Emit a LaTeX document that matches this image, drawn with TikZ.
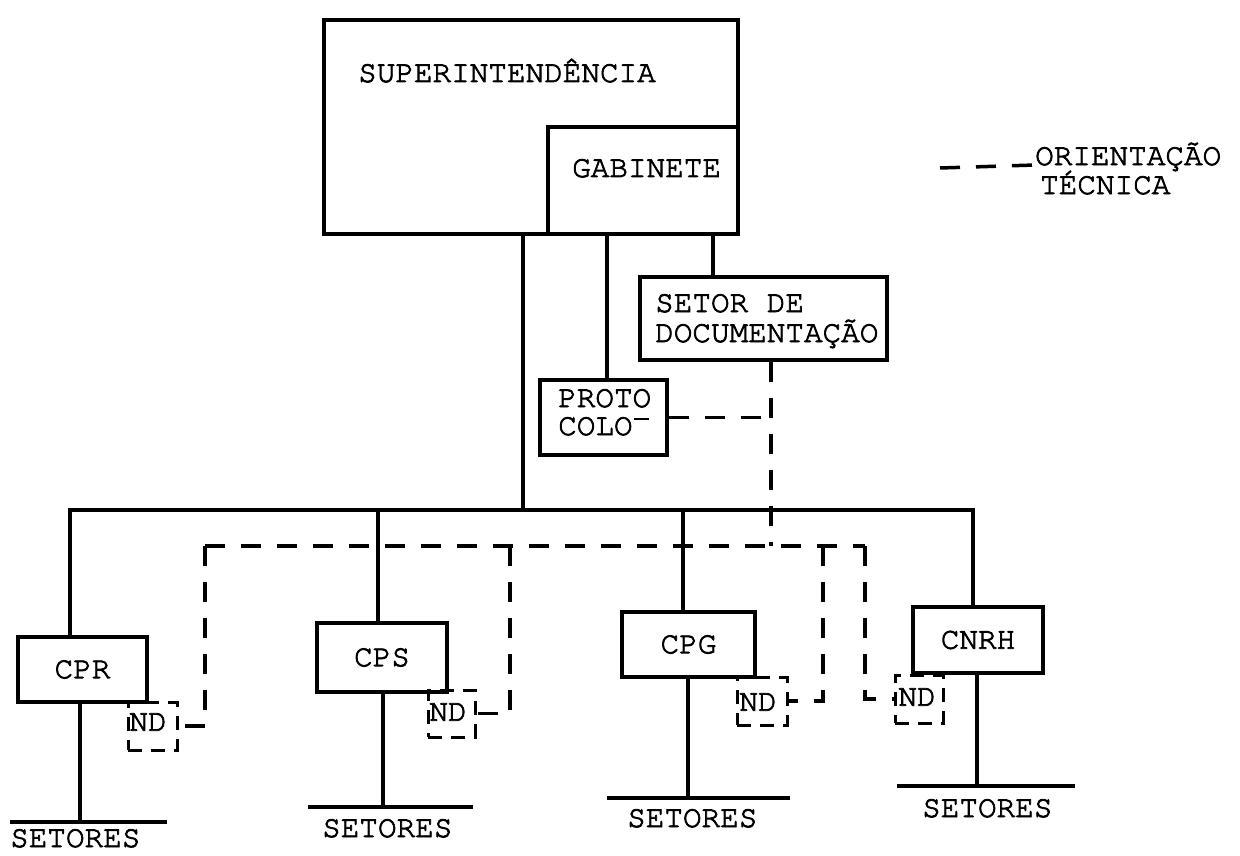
\documentclass[tikz,border=0pt]{standalone}
\usepackage{fontspec}
\newfontfamily\tw{TeX Gyre Cursor}[FakeBold=2.5]
\begin{document}
\begin{tikzpicture}[x=1pt,y=-1pt,
  box/.style={draw, line width=3.2pt, inner sep=0pt, font=\tw\fontsize{31}{31}\selectfont},
  ndbox/.style={draw, line width=3pt, dash pattern=on 14pt off 9pt, inner sep=0pt},
  lbl/.style={font=\tw\fontsize{31}{31}\selectfont, inner sep=0pt, anchor=base west},
  ctr/.style={font=\tw\fontsize{31}{31}\selectfont, inner sep=0pt},
  ln/.style={line width=3.2pt},
  dl/.style={line width=3.5pt, dash pattern=on 20pt off 16pt}]
\useasboundingbox (0,0) rectangle (1240,856);

% top boxes
\node[box, minimum width=414pt, minimum height=214pt] (sup) at (531,127) {};
\node[box, minimum width=190pt, minimum height=107pt] (gab) at (643,180.5) {};
\node[lbl] (tsup) at (358,82) {SUPERINTENDÊNCIA};
\node[lbl] (tgab) at (572,177) {GABINETE};

\node[box, minimum width=247pt, minimum height=83pt] (setor) at (763.5,318.5) {};
\node[lbl] (tset1) at (655,312) {SETOR DE};
\node[lbl] (tset2) at (655,342) {DOCUMENTAÇÃO};

\node[box, minimum width=127pt, minimum height=75pt] (prot) at (603.5,417.5) {};
\node[lbl] (tpro1) at (558,407) {PROTO};
\node[lbl] (tpro2) at (558,435) {COLO\hspace{1pt}\rule[0.48em]{0.5em}{2.5pt}};

% legend
\node[lbl] (leg1) at (1035,165) {ORIENTAÇÃO};
\node[lbl] (leg2) at (1040,194) {TÉCNICA};
\coordinate (lg) at (940,168);
\draw[dl] (lg) -- (leg1.base west);

% coordination boxes
\node[box, minimum width=129pt, minimum height=65pt] (cpr) at (82.5,669.5) {CPR};
\node[box, minimum width=130pt, minimum height=69pt] (cps) at (382,657.5) {CPS};
\node[box, minimum width=133pt, minimum height=65pt] (cpg) at (688.5,644.5) {CPG};
\node[box, minimum width=130pt, minimum height=66pt] (cnrh) at (978,640) {CNRH};

% ND boxes
\node[ndbox, minimum width=49pt, minimum height=48pt] (nd1) at (152.5,726) {};
\node[ctr] (tnd1) at (148,722) {ND};
\node[ndbox, minimum width=47pt, minimum height=47pt] (nd2) at (451.5,713.5) {};
\node[ctr] (tnd2) at (448,712) {ND};
\node[ndbox, minimum width=50pt, minimum height=48pt] (nd3) at (762,701) {};
\node[ctr] (tnd3) at (758,702) {ND};
\node[ndbox, minimum width=48pt, minimum height=48pt] (nd4) at (919,699) {};
\node[ctr] (tnd4) at (917,697) {ND};

% helper coordinates
\coordinate (xm) at (523,0);
\coordinate (xp) at (607,0);
\coordinate (xs) at (713,0);
\coordinate (x1) at (70,0);
\coordinate (x2) at (378,0);
\coordinate (x3) at (683,0);
\coordinate (x4) at (973,0);
\coordinate (by) at (0,510);

% solid connectors
\draw[ln] (xm |- sup.south) -- (xm |- by);
\draw[ln] (xp |- gab.south) -- (xp |- prot.north);
\draw[ln] (xs |- gab.south) -- (xs |- setor.north);
\draw[ln] (x1 |- cpr.north) -- (x1 |- by) -- (x4 |- by) -- (x4 |- cnrh.north);
\draw[ln] (x2 |- by) -- (x2 |- cps.north);
\draw[ln] (x3 |- by) -- (x3 |- cpg.north);

% sectors below
\coordinate (d1) at (80,822);
\coordinate (s1a) at (10,822);
\coordinate (s1b) at (167,822);
\draw[ln] (d1 |- cpr.south) -- (d1);
\draw[ln] (s1a) -- (s1b);
\node[lbl] (set1) at (10,847) {SETORES};

\coordinate (d2) at (383,807);
\coordinate (s2a) at (308,807);
\coordinate (s2b) at (473,807);
\draw[ln] (d2 |- cps.south) -- (d2);
\draw[ln] (s2a) -- (s2b);
\node[lbl] (set2) at (322,837) {SETORES};

\coordinate (d3) at (688,798);
\coordinate (s3a) at (607,798);
\coordinate (s3b) at (790,798);
\draw[ln] (d3 |- cpg.south) -- (d3);
\draw[ln] (s3a) -- (s3b);
\node[lbl] (set3) at (627,827) {SETORES};

\coordinate (d4) at (977,786);
\coordinate (s4a) at (897,786);
\coordinate (s4b) at (1075,786);
\draw[ln] (d4 |- cnrh.south) -- (d4);
\draw[ln] (s4a) -- (s4b);
\node[lbl] (set4) at (922,817) {SETORES};

% technical orientation (dashed)
\coordinate (h1) at (205,546);
\coordinate (h2) at (510,546);
\coordinate (h3) at (771,546);
\coordinate (h4) at (823,546);
\coordinate (h5) at (865,546);
\draw[dl] (h1) -- (h5);
\draw[dl] (h1) -- (h1 |- nd1.east) -- (nd1.east);
\draw[dl] (h2) -- (h2 |- nd2.east) -- (nd2.east);
\draw[dl] (h3 |- setor.south) -- (h3);
\draw[dl] (prot.east) -- (prot.east -| h3);
\draw[dl] (h4) -- (h4 |- nd3.east) -- (nd3.east);
\draw[dl] (h5) -- (h5 |- nd4.west) -- (nd4.west);
\end{tikzpicture}
\end{document}
